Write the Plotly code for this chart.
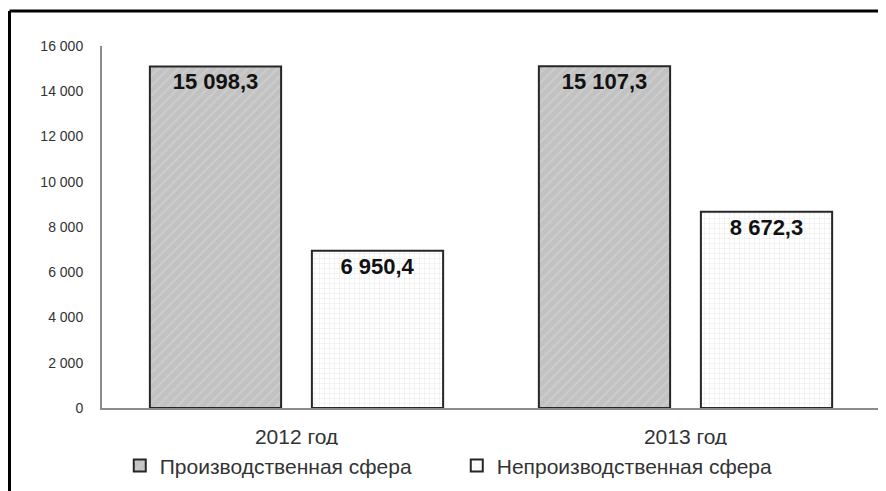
import plotly.graph_objects as go

categories = ["2012 год", "2013 год"]
series_names = ["Производственная сфера", "Непроизводственная сфера"]
prod_values = [15098.3, 15107.3]
nonprod_values = [6950.4, 8672.3]
y_ticks = [0, 2000, 4000, 6000, 8000, 10000, 12000, 14000, 16000]

FONT = "Liberation Sans, Arial, sans-serif"
label_font = dict(family=FONT, size=22, color="#111111", weight="bold")

fig = go.Figure()
fig.add_trace(go.Bar(
    x=categories, y=prod_values, name=series_names[0],
    marker=dict(color="#c2c2c2", line=dict(color="#262626", width=2),
                pattern=dict(shape="/", fgcolor="#dadada", size=7, solidity=0.25)),
    texttemplate="%{y:,.1f}", textposition="inside", insidetextanchor="end",
    textangle=0, textfont=label_font, insidetextfont=label_font,
    cliponaxis=False,
))
fig.add_trace(go.Bar(
    x=categories, y=nonprod_values, name=series_names[1],
    marker=dict(color="#ffffff", line=dict(color="#262626", width=2),
                pattern=dict(shape="+", fgcolor="#d2d2d2", size=5, solidity=0.2)),
    texttemplate="%{y:,.1f}", textposition="inside", insidetextanchor="end",
    textangle=0, textfont=label_font, insidetextfont=label_font,
    cliponaxis=False,
))

fig.update_layout(
    width=878, height=483,
    margin=dict(l=94, r=6, t=38, b=83, autoexpand=False),
    paper_bgcolor="white", plot_bgcolor="white",
    separators=", ",
    barmode="group", bargap=0.167, bargroupgap=0.19,
    font=dict(family=FONT, size=21, color="#333333"),
    legend=dict(orientation="h", x=0.456, xanchor="center", y=-0.16, yanchor="middle",
                font=dict(family=FONT, size=21, color="#333333"), traceorder="normal",
                itemwidth=30, entrywidth=292, entrywidthmode="pixels"),
    showlegend=True,
)
fig.update_xaxes(showline=True, linecolor="#8c8c8c", linewidth=2, ticks="",
                 tickfont=dict(family=FONT, size=21, color="#333333"), ticklabelstandoff=9,
                 showgrid=False)
fig.update_yaxes(range=[0, 16000], tickvals=y_ticks, tickformat=",d",
                 showline=True, linecolor="#8c8c8c", linewidth=2, ticks="",
                 showgrid=False, zeroline=False,
                 tickfont=dict(family=FONT, size=14, color="#333333"), ticklabelstandoff=14)

# outer frame (only top and left edges visible in the crop)
fig.add_shape(type="line", xref="paper", yref="paper",
              x0=-0.1189, x1=-0.1189, y0=-0.3, y1=1.0967,
              line=dict(color="black", width=3))
fig.add_shape(type="line", xref="paper", yref="paper",
              x0=-0.1189, x1=1.02, y0=1.0967, y1=1.0967,
              line=dict(color="black", width=3))

fig.write_html("out.html")
